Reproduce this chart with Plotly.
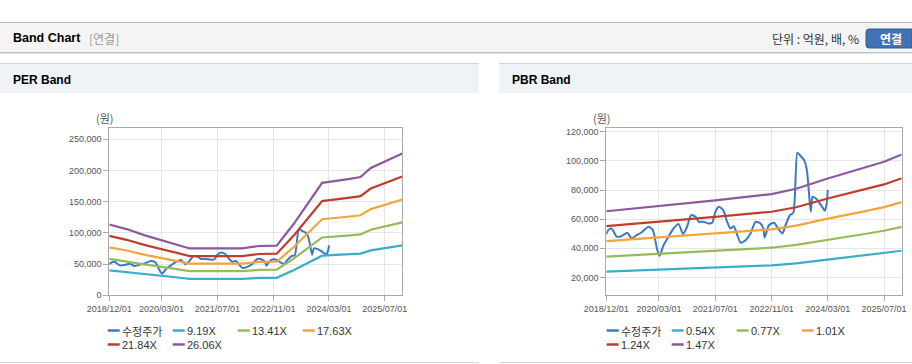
import plotly.graph_objects as go

# ---------------- data ----------------
price_dates = ["2018-12-01","2018-12-18","2019-01-16","2019-03-01","2019-04-12","2019-06-01","2019-07-08",
               "2019-08-20","2019-10-04","2019-12-01","2020-01-08","2020-02-12","2020-03-05","2020-04-10",
               "2020-05-22","2020-07-05","2020-08-18","2020-09-25","2020-10-30","2020-12-04","2021-01-11",
               "2021-02-09","2021-03-22","2021-05-05","2021-06-04","2021-07-02","2021-08-01","2021-09-08",
               "2021-10-12","2021-11-10","2021-12-09","2022-01-08","2022-02-06","2022-03-20","2022-05-02",
               "2022-06-15","2022-07-28","2022-08-21","2022-09-02","2022-10-09","2022-11-22","2022-12-27",
               "2023-02-03","2023-03-02","2023-04-09","2023-05-08","2023-06-12","2023-07-10","2023-08-09",
               "2023-09-02","2023-09-16","2023-10-06","2023-10-21","2023-11-05","2023-11-28","2024-01-02",
               "2024-02-06","2024-02-23","2024-03-01"]
price_values = [49800,52500,53600,48000,48400,50700,46800,49000,51000,54800,52500,40000,34700,42200,
                48000,53600,56600,49800,54800,62800,61700,58200,58200,57000,57500,65000,68500,66200,
                58200,53600,55200,49000,43800,45600,50200,58200,57000,53600,47500,56000,57500,53600,
                50200,56000,62800,64400,105600,103300,100600,93700,82200,65000,75400,75000,73600,69700,
                65800,72000,80000]

eps_dates = ["2018-12-01","2019-05-01","2019-10-01","2020-03-01","2020-07-01","2020-11-01","2021-07-01",
             "2022-02-01","2022-07-01","2022-12-01","2023-05-01","2024-01-01","2024-09-01","2024-12-01",
             "2025-03-01","2025-12-01"]
eps_values = [4355,4070,3700,3400,3150,2880,2880,2880,3030,3050,4410,6910,7160,7270,7830,8710]
per_multiples = [9.19, 13.41, 17.63, 21.84, 26.06]
per_labels = ["9.19X", "13.41X", "17.63X", "21.84X", "26.06X"]

bps_dates = ["2018-12-01","2020-03-01","2021-07-01","2022-11-01","2023-06-01","2024-03-01",
             "2025-01-01","2025-07-01","2025-12-01"]
bps_values = [44500,46900,49600,52500,55000,59800,64500,67600,71000]
pbr_multiples = [0.54, 0.77, 1.01, 1.24, 1.47]
pbr_labels = ["0.54X", "0.77X", "1.01X", "1.24X", "1.47X"]

price_name = "수정주가"
x_ticks = ["2018-12-01","2020-03-01","2021-07-01","2022-11-01","2024-03-01","2025-07-01"]
x_ticktext = ["2018/12/01","2020/03/01","2021/07/01","2022/11/01","2024/03/01","2025/07/01"]
per_yticks = [0, 50000, 100000, 150000, 200000, 250000]
pbr_yticks = [20000, 40000, 60000, 80000, 100000, 120000]

colors = ["#3b78c8", "#3aaec6", "#97bb5a", "#f4a43c", "#c23b2b", "#8a5a9e"]

W, H = 912, 364
def X(px): return px / W
def Y(py): return 1 - py / H

FONT = "Liberation Sans, Arial, Noto Sans CJK KR, sans-serif"
KFONT = "Noto Sans CJK KR, Liberation Sans, sans-serif"

fig = go.Figure()

fig.add_trace(go.Scatter(x=price_dates, y=price_values, mode="lines", name=price_name,
                         line=dict(color=colors[0], width=2, shape="spline", smoothing=0.6),
                         xaxis="x", yaxis="y", showlegend=False))
for i, m in enumerate(per_multiples):
    fig.add_trace(go.Scatter(x=eps_dates, y=[e * m for e in eps_values], mode="lines", name=per_labels[i],
                             line=dict(color=colors[i + 1], width=2.2), xaxis="x", yaxis="y", showlegend=False))
fig.add_trace(go.Scatter(x=price_dates, y=price_values, mode="lines", name=price_name,
                         line=dict(color=colors[0], width=2, shape="spline", smoothing=0.6),
                         xaxis="x2", yaxis="y2", showlegend=False))
for i, m in enumerate(pbr_multiples):
    fig.add_trace(go.Scatter(x=bps_dates, y=[b * m for b in bps_values], mode="lines", name=pbr_labels[i],
                             line=dict(color=colors[i + 1], width=2.2), xaxis="x2", yaxis="y2", showlegend=False))

axis_common = dict(showgrid=True, gridcolor="#e6e6e6", gridwidth=1, showline=True, linecolor="#aaaaaa",
                   linewidth=1, mirror=True, ticks="outside", ticklen=5, tickcolor="#aaaaaa",
                   tickfont=dict(family=FONT, size=9, color="#555555"), zeroline=False, fixedrange=True,
                   automargin=False)

fig.update_layout(
    width=W, height=H, autosize=False, margin=dict(l=0, r=0, t=0, b=0, pad=0, autoexpand=False),
    paper_bgcolor="white", plot_bgcolor="white", showlegend=False,
    xaxis=dict(domain=[X(109.3), X(402.3)], range=["2018-12-01", "2025-12-01"], type="date",
               tickvals=x_ticks, ticktext=x_ticktext, anchor="y", **axis_common),
    yaxis=dict(domain=[Y(295.3), Y(128.3)], range=[0, 267500], tickvals=per_yticks,
               tickformat=",d", anchor="x", **axis_common),
    xaxis2=dict(domain=[X(606.3), X(901.7)], range=["2018-12-01", "2025-12-01"], type="date",
                tickvals=x_ticks, ticktext=x_ticktext, anchor="y2", **axis_common),
    yaxis2=dict(domain=[Y(295.3), Y(128.3)], range=[7800, 122300], tickvals=pbr_yticks,
                tickformat=",d", anchor="x2", **axis_common),
)

shapes = []
annotations = []

def rect(x0, y0, x1, y1, fill, layer="below"):
    shapes.append(dict(type="rect", xref="paper", yref="paper", x0=X(x0), x1=X(x1), y0=Y(y1), y1=Y(y0),
                       fillcolor=fill, line=dict(width=0), layer=layer))

def hline(x0, x1, y, color, width=1):
    shapes.append(dict(type="line", xref="paper", yref="paper", x0=X(x0), x1=X(x1), y0=Y(y), y1=Y(y),
                       line=dict(color=color, width=width), layer="below"))

def text(x, y, s, size=12, color="#000", bold=False, xanchor="left", family=KFONT):
    t = f"<b>{s}</b>" if bold else s
    annotations.append(dict(xref="paper", yref="paper", x=X(x), y=Y(y), text=t, showarrow=False,
                            xanchor=xanchor, yanchor="middle", borderpad=0,
                            font=dict(family=family, size=size, color=color)))

# header
hline(0, 912, 22.5, "#bdbdbd", 1)
rect(0, 23, 912, 52, "#f4f4f4")
hline(0, 912, 52.5, "#c4c4c4", 1)
hline(0, 912, 53.5, "#e2e2e2", 1)
text(12, 38, "Band Chart", size=12.5, bold=True, family=FONT)
text(88, 38.5, "[연결]", size=12, color="#999999")
text(860, 38.5, "단위 : 억원, 배, %", size=12, color="#333333", xanchor="right")
bx0, bx1, by0, by1, r = 866, 912, 29, 48, 3
path = (f"M {X(bx0+r)},{Y(by0)} L {X(bx1)},{Y(by0)} L {X(bx1)},{Y(by1)} L {X(bx0+r)},{Y(by1)} "
        f"Q {X(bx0)},{Y(by1)} {X(bx0)},{Y(by1-r)} L {X(bx0)},{Y(by0+r)} Q {X(bx0)},{Y(by0)} {X(bx0+r)},{Y(by0)} Z")
shapes.append(dict(type="path", xref="paper", yref="paper", path=path, fillcolor="#4073b5",
                   line=dict(color="#2f5e9c", width=1), layer="below"))
text(891, 38.5, "연결", size=12, color="white", bold=True, xanchor="center")

for px0, px1, title in [(0, 479, "PER Band"), (499, 912, "PBR Band")]:
    hline(px0, px1, 63.5, "#d2d2d2", 1)
    rect(px0, 64, px1, 93, "#eff2f7")
    hline(px0, px1, 362.5, "#d6d6d6", 1)
    text(px0 + 12, 80, title, size=12, bold=True, family=FONT)

text(105, 118, "(원)", size=11, color="#555555", xanchor="center")
text(602, 118, "(원)", size=11, color="#555555", xanchor="center")

def legend(base_x, names):
    for k, nm in enumerate(names):
        row, col = divmod(k, 4)
        lx = base_x + col * 65
        ly = 330.5 + row * 14
        shapes.append(dict(type="line", xref="paper", yref="paper", x0=X(lx), x1=X(lx + 12), y0=Y(ly), y1=Y(ly),
                           line=dict(color=colors[k], width=2.5), layer="above"))
        text(lx + 13, ly, nm, size=11, color="#333333", family=FONT if k else KFONT)

legend(107.7, [price_name] + per_labels)
legend(606.7, [price_name] + pbr_labels)

fig.update_layout(shapes=shapes, annotations=annotations)
fig.write_html("out.html", config={"responsive": False, "displayModeBar": False},
               post_script="document.body.style.margin='0';document.body.style.padding='0';document.body.style.overflow='hidden';")
